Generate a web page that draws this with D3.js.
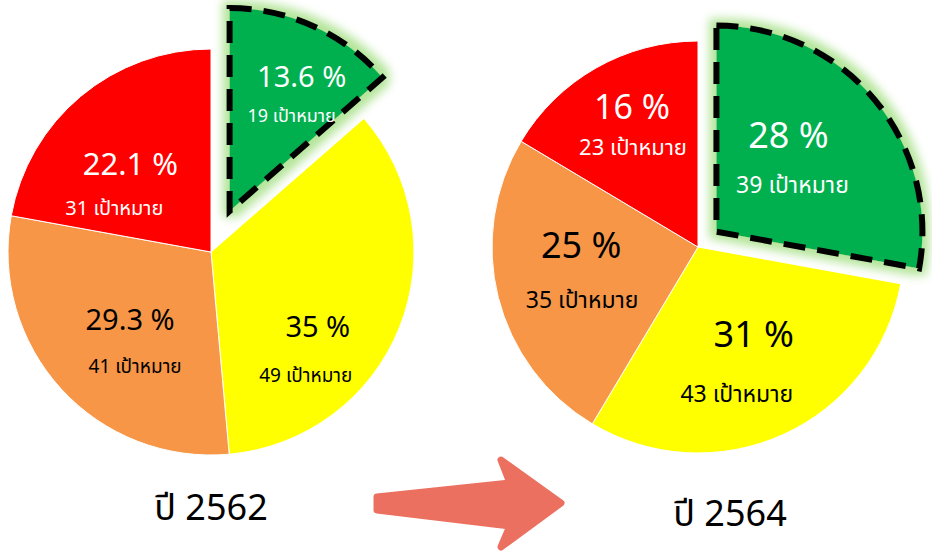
<!DOCTYPE html>
<html>
<head>
<meta charset="utf-8">
<script src="https://cdn.jsdelivr.net/npm/d3@7"></script>
<style>
  body { margin: 0; background: #fff; }
  svg { display: block; }
  text { font-family: "Noto Sans Thai", Tahoma, "Leelawadee UI", "DejaVu Sans", sans-serif; }
</style>
</head>
<body>
<svg></svg>
<script>
// data (counts of targets per level, 140 in total each year)
var years = ["ปี 2562", "ปี 2564"];
var levels = ["green", "yellow", "orange", "red"];
var counts2562 = [19, 49, 41, 31];
var counts2564 = [39, 43, 35, 23];
var pct2562 = ["13.6 %", "35 %", "29.3 %", "22.1 %"];
var pct2564 = ["28 %", "31 %", "25 %", "16 %"];
var unit = "เป้าหมาย";

var colors = {green: "#00b050", yellow: "#ffff00", orange: "#f79646", red: "#ff0000"};
var textColors = {green: "#fff", yellow: "#000", orange: "#000", red: "#fff"};

var screen = {width: 932, height: 557};

var svg = d3.select("svg")
    .attr("width", screen.width)
    .attr("height", screen.height);

// glow round the exploded slice
var defs = svg.append("defs");
var f = defs.append("filter").attr("id", "glow")
    .attr("x", "-30%").attr("y", "-30%").attr("width", "160%").attr("height", "160%");
f.append("feMorphology").attr("in", "SourceAlpha").attr("operator", "dilate").attr("radius", 7).attr("result", "d");
f.append("feGaussianBlur").attr("in", "d").attr("stdDeviation", 5).attr("result", "b");
f.append("feFlood").attr("flood-color", "#b4e59a").attr("flood-opacity", 1);
f.append("feComposite").attr("in2", "b").attr("operator", "in").attr("result", "g");
var m = f.append("feMerge");
m.append("feMergeNode").attr("in", "g");
m.append("feMergeNode").attr("in", "SourceGraphic");

// layout of each pie
var pies = [
  {counts: counts2562, pct: pct2562, year: years[0], cx: 211, cy: 252, r: 203, explode: 45,
   title: {x: 211, y: 520},
   mainSize: [29, 29, 29, 31], subSize: [18, 19, 19, 20],
   nudge: [[20, -9], [-10, 38], [12, -7], [0, 20]],
   sub: [[-10, 35], [-12, 45], [5, 43], [-16, 40]]},
  {counts: counts2564, pct: pct2564, year: years[1], cx: 698, cy: 247, r: 206, explode: 24,
   title: {x: 730, y: 526},
   mainSize: [36, 36, 36, 34], subSize: [23, 23, 23, 22],
   nudge: [[-26, -2], [3, -16], [7, -20], [-3, -17]],
   sub: [[4, 45], [-17, 55], [1, 50], [1, 36]]}
];

var pie = d3.pie().sort(null).value(function(d){ return d; });

pies.forEach(function(p)
{
    var arcs = pie(p.counts);
    var arc = d3.arc().innerRadius(0).outerRadius(p.r);
    var labelArc = d3.arc().innerRadius(p.r * 0.62).outerRadius(p.r * 0.62);

    var g = svg.append("g").attr("transform", "translate(" + p.cx + "," + p.cy + ")");

    // offset for the exploded (first) slice
    var shift = function(d, i)
    {
        if (i !== 0) return [0, 0];
        var a = (d.startAngle + d.endAngle) / 2;
        return [Math.sin(a) * p.explode, -Math.cos(a) * p.explode];
    };

    arcs.forEach(function(d, i)
    {
        var s = shift(d, i);
        var sg = g.append("g").attr("transform", "translate(" + s[0] + "," + s[1] + ")");
        if (i === 0)
        {
            sg.append("path").attr("d", arc(d))
              .attr("fill", colors[levels[i]])
              .attr("filter", "url(#glow)");
            sg.append("path").attr("d", arc(d))
              .attr("fill", "none")
              .attr("stroke", "#000")
              .attr("stroke-width", 6)
              .attr("stroke-dasharray", "22 12");
        }
        else
        {
            sg.append("path").attr("d", arc(d))
              .attr("fill", colors[levels[i]])
              .attr("stroke", "#fff")
              .attr("stroke-width", 1);
        }
    });

    // labels
    arcs.forEach(function(d, i)
    {
        var s = shift(d, i);
        var c = labelArc.centroid(d);
        var x = c[0] + s[0] + p.nudge[i][0];
        var y = c[1] + s[1] + p.nudge[i][1];
        g.append("text")
          .attr("x", x).attr("y", y)
          .attr("text-anchor", "middle")
          .attr("font-size", p.mainSize[i])
          .attr("fill", textColors[levels[i]])
          .text(p.pct[i]);
        g.append("text")
          .attr("x", x + p.sub[i][0]).attr("y", y + p.sub[i][1])
          .attr("text-anchor", "middle")
          .attr("font-size", p.subSize[i])
          .attr("fill", textColors[levels[i]])
          .text(p.counts[i] + " " + unit);
    });

    svg.append("text")
      .attr("x", p.title.x).attr("y", p.title.y)
      .attr("text-anchor", "middle")
      .attr("font-size", 36)
      .attr("fill", "#000")
      .text(p.year);
});

// arrow between the two years
var arrowPts = [[377, 497], [510, 483], [501, 460], [561, 503], [501, 547], [510, 526], [377, 510]];
svg.append("path")
  .attr("d", d3.line()(arrowPts) + "Z")
  .attr("fill", "#eb7060")
  .attr("stroke", "#eb7060")
  .attr("stroke-width", 7)
  .attr("stroke-linejoin", "round");
</script>
</body>
</html>
